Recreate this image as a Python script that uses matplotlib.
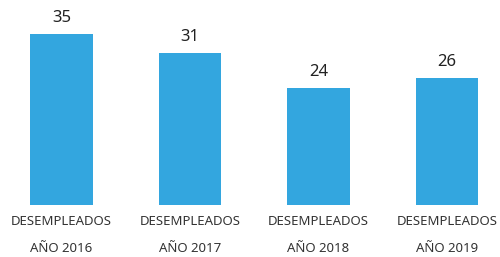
import matplotlib
matplotlib.use("Agg")
import matplotlib.pyplot as plt

# data
years = ["2016", "2017", "2018", "2019"]
desempleados = [35, 31, 24, 26]
cat_line1 = "DESEMPLEADOS"
cat_line2 = ["AÑO " + y for y in years]

plt.rcParams['font.family'] = ['Noto Sans', 'DejaVu Sans']

fig = plt.figure(figsize=(5, 2.57), dpi=100)
ax = fig.add_axes([0, 0, 1, 1])

x = list(range(len(years)))
ax.bar(x, desempleados, width=0.49, color='#33a6df')

# value labels above bars
for xi, v in zip(x, desempleados):
    ax.annotate(str(v), (xi, v), xytext=(0, 11.5), textcoords='offset points',
                ha='center', va='center', fontsize=12, color='#222222')

# category labels under bars
for xi, lab in zip(x, cat_line2):
    ax.text(xi, -3.3, cat_line1, ha='center', va='center',
            fontsize=9.5, color='#333333', fontweight='light')
    ax.text(xi, -8.8, lab, ha='center', va='center',
            fontsize=9.5, color='#333333', fontweight='light')

ax.set_xlim(-0.4786, 3.4125)
ax.set_ylim(-10.63, 41.93)
ax.axis('off')

fig.savefig("out.png", dpi=100, facecolor='white')
